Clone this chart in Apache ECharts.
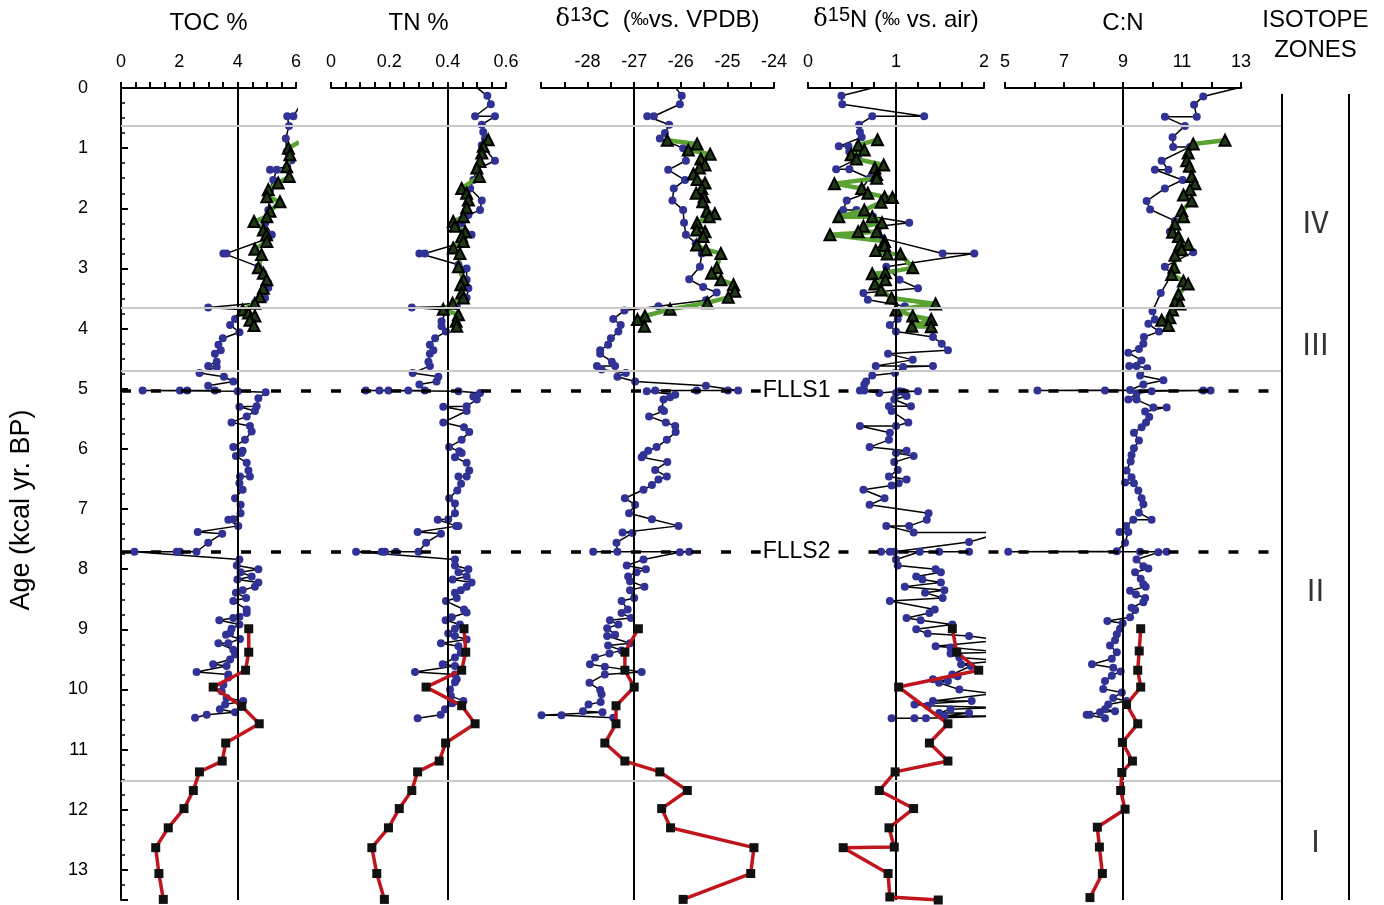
<!DOCTYPE html>
<html>
<head>
<meta charset="utf-8">
<script src="https://cdn.jsdelivr.net/npm/echarts@6/dist/echarts.min.js"></script>
<style>
  html, body { margin: 0; padding: 0; background: #fff; }
  #chart { width: 1384px; height: 905px; }
</style>
</head>
<body>
<div id="chart"></div>
<script>
// [value, age kcal BP] pairs
const tocBlue = [[6.15,0.28],[5.91,0.47],[5.70,0.47],[5.76,0.63],[5.65,0.84],[5.68,1.06],[5.85,1.20],[5.70,1.31],[5.11,1.36],[5.34,1.36],[5.22,1.53],[5.11,1.69],[5.05,2.03],[4.94,2.25],[5.17,2.44],[4.94,2.52],[3.62,2.75],[3.51,2.75],[4.71,2.97],[4.88,3.08],[5.05,3.24],[5.05,3.32],[4.94,3.49],[4.59,3.58],[2.99,3.65],[4.31,3.69],[3.91,3.84],[3.74,3.94],[4.06,4.06],[3.49,4.16],[3.34,4.27],[3.42,4.36],[3.22,4.42],[3.28,4.55],[2.99,4.62],[3.28,4.64],[2.69,4.74],[3.53,4.80],[3.85,4.88],[2.99,4.95],[3.22,5.03],[2.27,5.03],[2.02,5.03],[0.74,5.03],[4.0,5.04],[4.96,5.06],[4.71,5.16],[4.65,5.29],[4.06,5.30],[4.59,5.37],[4.31,5.46],[3.79,5.56],[4.42,5.62],[4.48,5.71],[4.25,5.85],[3.85,5.97],[4.17,6.03],[4.13,6.07],[3.94,6.12],[4.31,6.23],[4.37,6.36],[4.42,6.46],[4.08,6.46],[4.06,6.57],[4.17,6.68],[3.91,6.82],[4.10,6.93],[4.10,7.07],[3.85,7.17],[3.68,7.18],[4.02,7.28],[2.63,7.38],[3.47,7.41],[2.99,7.56],[2.59,7.71],[2.02,7.71],[1.91,7.71],[0.46,7.71],[4.06,7.84],[3.97,7.94],[4.71,8.0],[4.10,8.05],[4.48,8.12],[3.99,8.17],[4.71,8.22],[4.59,8.29],[4.17,8.35],[3.94,8.39],[4.29,8.48],[3.85,8.53],[4.31,8.67],[4.31,8.73],[4.06,8.79],[3.85,8.81],[3.37,8.85],[4.06,8.92],[3.79,8.99],[3.74,9.06],[3.60,9.09],[4.08,9.16],[3.68,9.23],[3.34,9.23],[3.85,9.34],[3.91,9.42],[3.74,9.50],[3.16,9.58],[3.62,9.61],[2.59,9.71],[3.68,9.75],[3.68,9.80],[3.51,9.92],[3.45,10.03],[3.62,10.14],[4.19,10.19],[3.57,10.25],[3.39,10.33],[3.91,10.38],[2.94,10.42],[2.54,10.47]];
const tocGreen = [[6.1,0.9],[5.74,1.0],[5.79,1.11],[5.68,1.31],[5.77,1.47],[5.39,1.58],[5.05,1.69],[5.0,1.81],[5.45,1.89],[5.11,2.05],[5.0,2.14],[4.56,2.22],[4.88,2.36],[4.99,2.44],[5.0,2.55],[4.59,2.68],[4.82,2.77],[4.71,2.99],[4.88,3.08],[5.0,3.19],[4.88,3.33],[4.76,3.47],[4.59,3.58],[4.17,3.69],[4.37,3.74],[4.59,3.79],[4.42,3.86],[4.56,3.95]];
const tocRed = [[4.38,8.99],[4.38,9.38],[4.27,9.68],[3.16,9.96],[4.14,10.28],[4.74,10.57],[3.59,10.89],[3.47,11.19],[2.69,11.37],[2.48,11.68],[2.16,11.98],[1.62,12.30],[1.19,12.63],[1.30,13.06],[1.45,13.49]];

const tnBlue = [[0.488,-0.05],[0.536,0.13],[0.548,0.27],[0.494,0.47],[0.562,0.47],[0.517,0.61],[0.522,0.73],[0.528,0.84],[0.517,0.95],[0.562,1.21],[0.50,1.35],[0.488,1.53],[0.477,1.67],[0.517,1.87],[0.511,2.03],[0.471,2.11],[0.448,2.25],[0.482,2.44],[0.442,2.58],[0.322,2.75],[0.303,2.75],[0.437,2.94],[0.465,3.0],[0.465,3.19],[0.471,3.33],[0.465,3.49],[0.431,3.63],[0.277,3.65],[0.397,3.69],[0.379,3.88],[0.379,3.96],[0.394,4.05],[0.357,4.16],[0.339,4.27],[0.351,4.36],[0.339,4.42],[0.334,4.55],[0.339,4.62],[0.28,4.74],[0.368,4.80],[0.362,4.88],[0.303,4.93],[0.322,5.03],[0.265,5.03],[0.197,5.03],[0.166,5.03],[0.119,5.03],[0.437,5.04],[0.511,5.07],[0.488,5.13],[0.50,5.18],[0.465,5.29],[0.385,5.30],[0.465,5.37],[0.385,5.56],[0.456,5.64],[0.474,5.72],[0.448,5.85],[0.405,5.97],[0.44,6.04],[0.448,6.07],[0.425,6.14],[0.465,6.23],[0.474,6.36],[0.465,6.46],[0.437,6.46],[0.446,6.58],[0.433,6.69],[0.405,6.82],[0.425,6.91],[0.425,7.07],[0.402,7.17],[0.366,7.18],[0.429,7.28],[0.437,7.28],[0.297,7.38],[0.377,7.41],[0.326,7.56],[0.30,7.71],[0.223,7.71],[0.185,7.71],[0.174,7.71],[0.086,7.71],[0.425,7.84],[0.425,7.94],[0.471,8.0],[0.437,8.05],[0.465,8.12],[0.417,8.17],[0.482,8.22],[0.465,8.29],[0.445,8.35],[0.425,8.39],[0.431,8.48],[0.394,8.53],[0.456,8.67],[0.465,8.72],[0.414,8.80],[0.393,8.85],[0.442,8.92],[0.425,8.99],[0.402,9.07],[0.425,9.11],[0.465,9.17],[0.377,9.23],[0.437,9.28],[0.445,9.39],[0.425,9.47],[0.383,9.58],[0.425,9.61],[0.288,9.71],[0.425,9.75],[0.431,9.83],[0.425,9.88],[0.408,10.0],[0.411,10.11],[0.454,10.19],[0.416,10.23],[0.391,10.33],[0.376,10.42],[0.297,10.48]];
const tnGreen = [[0.539,0.86],[0.522,0.97],[0.517,1.08],[0.511,1.22],[0.50,1.33],[0.509,1.47],[0.448,1.67],[0.465,1.75],[0.471,1.86],[0.465,1.99],[0.454,2.14],[0.419,2.22],[0.425,2.30],[0.46,2.39],[0.448,2.47],[0.454,2.55],[0.419,2.66],[0.442,2.75],[0.437,2.97],[0.454,3.19],[0.445,3.27],[0.448,3.41],[0.454,3.49],[0.417,3.58],[0.385,3.68],[0.437,3.77],[0.429,3.88],[0.431,3.96]];
const tnRed = [[0.456,8.99],[0.462,9.38],[0.448,9.68],[0.326,9.96],[0.448,10.27],[0.494,10.57],[0.393,10.89],[0.371,11.19],[0.297,11.37],[0.277,11.68],[0.234,11.98],[0.197,12.30],[0.140,12.63],[0.157,13.06],[0.183,13.49]];

const d13Blue = [[-26.15,-0.05],[-25.98,0.13],[-26.02,0.27],[-26.58,0.47],[-26.72,0.47],[-26.25,0.61],[-26.34,0.75],[-26.45,0.84],[-25.95,1.0],[-25.89,1.21],[-26.27,1.36],[-25.91,1.53],[-26.15,1.67],[-26.18,1.87],[-25.95,2.03],[-25.93,2.24],[-25.89,2.44],[-25.68,2.58],[-25.55,2.75],[-25.59,2.97],[-25.82,3.18],[-25.52,3.31],[-25.23,3.40],[-25.46,3.53],[-26.48,3.63],[-27.21,3.70],[-27.45,3.84],[-27.29,3.94],[-27.34,4.05],[-27.50,4.16],[-27.56,4.27],[-27.73,4.36],[-27.73,4.42],[-27.48,4.55],[-27.41,4.62],[-27.80,4.62],[-27.70,4.68],[-27.18,4.74],[-27.36,4.80],[-26.98,4.88],[-25.46,4.95],[-24.77,5.03],[-24.99,5.03],[-25.66,5.03],[-26.55,5.03],[-26.73,5.04],[-26.12,5.10],[-26.23,5.14],[-26.37,5.18],[-26.41,5.34],[-26.36,5.37],[-26.68,5.46],[-26.32,5.56],[-26.12,5.62],[-26.11,5.72],[-26.30,5.85],[-26.52,5.97],[-26.70,6.03],[-26.80,6.10],[-26.84,6.14],[-26.29,6.22],[-26.55,6.35],[-26.30,6.46],[-26.48,6.51],[-26.62,6.60],[-26.80,6.68],[-27.20,6.82],[-26.98,6.93],[-27.11,7.07],[-26.62,7.17],[-26.05,7.28],[-27.25,7.39],[-27.04,7.40],[-27.38,7.56],[-27.36,7.71],[-27.88,7.71],[-25.82,7.71],[-26.02,7.72],[-26.80,7.84],[-27.16,7.94],[-26.75,8.0],[-26.95,8.05],[-27.13,8.12],[-27.09,8.20],[-26.78,8.29],[-27.09,8.35],[-27.0,8.48],[-27.27,8.53],[-27.14,8.67],[-27.27,8.73],[-27.07,8.81],[-27.52,8.85],[-27.34,8.92],[-27.58,8.98],[-27.41,9.09],[-27.58,9.11],[-27.09,9.23],[-27.56,9.27],[-27.27,9.35],[-27.53,9.40],[-27.84,9.47],[-27.95,9.58],[-27.63,9.62],[-26.84,9.71],[-27.63,9.75],[-27.96,9.89],[-27.73,10.01],[-27.70,10.08],[-27.72,10.21],[-27.98,10.25],[-28.10,10.36],[-27.68,10.38],[-28.99,10.43],[-28.56,10.43],[-27.45,10.47]];
const d13Green = [[-26.29,0.87],[-25.65,0.93],[-25.84,1.03],[-25.37,1.10],[-25.57,1.18],[-25.48,1.28],[-25.60,1.33],[-25.73,1.43],[-25.65,1.52],[-25.48,1.58],[-25.55,1.67],[-25.67,1.75],[-25.50,1.81],[-25.53,1.89],[-25.44,2.05],[-25.27,2.09],[-25.39,2.14],[-25.65,2.24],[-25.66,2.36],[-25.48,2.39],[-25.52,2.47],[-25.66,2.61],[-25.46,2.69],[-25.14,2.75],[-25.23,2.99],[-25.34,3.08],[-25.14,3.19],[-24.87,3.27],[-24.84,3.38],[-24.98,3.48],[-25.43,3.57],[-26.23,3.68],[-26.77,3.79],[-26.93,3.85],[-26.78,3.96]];
const d13Red = [[-26.91,8.99],[-27.20,9.38],[-27.20,9.68],[-27.0,9.96],[-27.39,10.27],[-27.39,10.57],[-27.63,10.89],[-27.20,11.19],[-26.45,11.37],[-25.86,11.68],[-26.41,11.98],[-26.22,12.30],[-24.43,12.63],[-24.50,13.06],[-25.95,13.49]];

const d15Blue = [[0.87,-0.05],[0.38,0.13],[0.39,0.27],[1.32,0.47],[0.73,0.47],[0.58,0.61],[0.59,0.73],[0.61,0.82],[0.35,0.97],[0.46,0.97],[0.47,1.06],[0.57,1.17],[0.32,1.35],[0.47,1.35],[0.70,1.50],[0.61,1.67],[0.66,1.75],[0.44,1.87],[0.40,2.03],[0.55,2.03],[0.74,2.14],[1.15,2.24],[0.81,2.30],[0.85,2.50],[1.53,2.75],[1.89,2.75],[0.89,2.97],[1.04,3.19],[1.25,3.33],[0.63,3.41],[0.68,3.52],[1.10,3.63],[1.02,3.84],[0.93,3.94],[1.0,4.05],[1.42,4.14],[1.52,4.25],[1.59,4.36],[0.91,4.42],[1.19,4.52],[0.77,4.62],[1.42,4.62],[1.08,4.64],[0.99,4.74],[0.73,4.78],[0.66,4.88],[0.64,4.93],[0.59,5.03],[0.64,5.03],[0.81,5.07],[1.04,5.04],[1.25,5.04],[1.08,5.05],[1.0,5.07],[1.12,5.12],[0.98,5.18],[1.17,5.29],[0.92,5.29],[0.95,5.37],[1.14,5.56],[1.0,5.62],[0.59,5.62],[0.93,5.73],[0.92,5.85],[0.70,5.97],[1.12,6.03],[1.0,6.07],[1.20,6.12],[0.98,6.22],[1.02,6.35],[0.92,6.46],[1.12,6.51],[1.03,6.57],[0.95,6.61],[0.63,6.68],[0.87,6.82],[0.70,6.93],[1.37,7.07],[1.35,7.18],[1.15,7.28],[0.89,7.28],[1.20,7.39],[2.2,7.39],[1.83,7.55],[0.98,7.71],[0.83,7.71],[0.93,7.71],[1.83,7.71],[1.49,7.71],[1.27,7.71],[1.0,7.84],[1.02,7.94],[1.45,8.0],[1.51,8.05],[1.23,8.12],[1.30,8.17],[1.51,8.22],[1.10,8.29],[1.55,8.35],[1.33,8.39],[1.53,8.48],[0.93,8.53],[1.44,8.67],[1.38,8.73],[1.12,8.81],[1.28,8.85],[1.64,8.92],[1.23,9.0],[1.36,9.07],[1.83,9.11],[2.2,9.18],[1.45,9.28],[1.62,9.30],[2.2,9.38],[1.62,9.40],[1.72,9.47],[2.2,9.52],[1.74,9.58],[1.85,9.61],[1.64,9.75],[1.70,9.78],[1.42,9.83],[1.59,9.86],[1.49,9.89],[1.72,10.0],[2.1,10.07],[1.42,10.19],[1.86,10.19],[1.21,10.25],[1.36,10.27],[2.2,10.30],[1.62,10.33],[1.49,10.39],[1.83,10.39],[1.55,10.44],[2.2,10.44],[1.34,10.48],[1.21,10.48],[0.95,10.48]];
const d15Green = [[0.79,0.86],[0.57,0.95],[0.64,1.03],[0.49,1.11],[0.55,1.18],[0.86,1.28],[0.76,1.33],[0.78,1.44],[0.78,1.50],[0.30,1.59],[0.61,1.67],[0.68,1.75],[0.87,1.81],[0.96,1.82],[0.83,1.90],[0.64,2.03],[0.35,2.14],[0.73,2.14],[0.84,2.24],[0.63,2.30],[0.57,2.39],[0.78,2.39],[0.25,2.44],[0.87,2.55],[0.87,2.62],[0.77,2.70],[0.90,2.76],[1.05,2.76],[1.19,2.99],[0.88,3.07],[0.73,3.09],[0.88,3.19],[0.76,3.26],[0.83,3.36],[0.95,3.49],[1.45,3.59],[1.0,3.69],[1.19,3.79],[1.40,3.85],[1.18,3.96],[1.40,3.97]];
const d15Red = [[1.64,8.99],[1.69,9.38],[1.94,9.68],[1.03,9.96],[1.59,10.57],[1.38,10.89],[1.59,11.19],[0.99,11.37],[0.81,11.68],[1.20,11.98],[0.92,12.30],[0.98,12.62],[0.40,12.63],[0.91,13.06],[0.93,13.45],[1.48,13.5]];

const cnBlue = [[13.3,-0.05],[11.72,0.14],[11.41,0.28],[11.50,0.48],[10.42,0.48],[11.10,0.63],[10.68,0.82],[10.70,0.98],[11.27,0.98],[10.31,1.21],[10.54,1.36],[10.08,1.36],[11.02,1.53],[10.42,1.67],[9.80,1.88],[9.92,2.02],[10.76,2.21],[10.59,2.39],[11.38,2.73],[10.42,2.97],[10.65,3.10],[10.28,3.41],[10.0,3.71],[10.08,3.85],[9.86,3.92],[10.22,4.05],[9.71,4.14],[9.69,4.25],[9.54,4.34],[9.18,4.40],[9.63,4.53],[9.21,4.62],[9.46,4.62],[9.82,4.66],[9.58,4.78],[10.37,4.86],[9.69,4.93],[9.24,5.02],[6.10,5.03],[8.39,5.03],[11.97,5.03],[11.72,5.03],[9.97,5.04],[9.46,5.08],[9.18,5.18],[9.46,5.18],[10.03,5.31],[10.48,5.31],[9.75,5.38],[9.89,5.47],[9.78,5.56],[9.63,5.64],[9.37,5.73],[9.54,5.86],[9.37,5.99],[9.29,6.10],[9.26,6.21],[9.12,6.36],[9.29,6.47],[9.07,6.56],[9.37,6.57],[9.52,6.69],[9.63,6.82],[9.69,6.92],[9.54,7.06],[9.97,7.18],[9.35,7.18],[9.10,7.28],[8.88,7.38],[9.18,7.38],[9.07,7.56],[8.79,7.70],[5.11,7.71],[9.58,7.71],[10.48,7.71],[10.20,7.72],[9.46,7.84],[9.69,7.95],[9.86,7.99],[9.41,8.05],[9.60,8.16],[9.69,8.25],[9.77,8.29],[9.24,8.36],[9.44,8.42],[9.75,8.48],[9.69,8.55],[9.29,8.64],[9.41,8.68],[9.24,8.80],[8.47,8.86],[8.99,8.90],[8.90,8.99],[8.79,9.08],[8.73,9.18],[8.56,9.27],[8.79,9.38],[8.62,9.49],[7.95,9.58],[8.67,9.64],[8.92,9.70],[8.62,9.77],[8.39,9.86],[8.33,9.99],[8.96,10.05],[8.67,10.14],[9.12,10.19],[8.50,10.25],[8.39,10.33],[8.73,10.36],[8.22,10.38],[7.88,10.42],[7.77,10.42],[8.39,10.48]];
const cnGreen = [[12.46,0.87],[11.38,0.93],[11.21,1.08],[11.16,1.21],[11.25,1.30],[11.33,1.47],[11.44,1.59],[11.27,1.69],[11.05,1.78],[11.33,1.88],[10.99,2.04],[11.05,2.14],[10.76,2.26],[10.68,2.40],[10.88,2.47],[10.93,2.60],[11.21,2.60],[10.99,2.69],[10.76,2.78],[10.73,2.98],[10.65,3.10],[11.05,3.21],[11.21,3.26],[10.88,3.43],[10.76,3.56],[10.93,3.59],[10.68,3.69],[10.59,3.82],[10.31,3.86],[10.54,3.95]];
const cnRed = [[9.60,8.99],[9.55,9.36],[9.50,9.68],[9.60,9.96],[9.12,10.25],[9.50,10.57],[8.98,10.88],[9.32,11.19],[8.96,11.38],[8.92,11.68],[9.07,11.99],[8.13,12.29],[8.20,12.62],[8.30,13.06],[7.88,13.46]];

const zoneBounds = [0.63, 3.65, 4.70, 11.51];
const eventNames = ['FLLS1', 'FLLS2'];
const eventAges = [5.03, 7.71];
const zoneNames = ['Ⅳ', 'Ⅲ', 'Ⅱ', 'Ⅰ'];
const zoneLabelAges = [2.14, 4.18, 8.3, 12.5];

const FONT = 'Liberation Sans';
const TOP = 88, H = 812, AGE_MAX = 13.5;

const panels = [
  { left: 121, width: 175, min: 0, max: 6, interval: 2, minor: 4, ref: 4,
    name: 'TOC %', blue: tocBlue, green: tocGreen, red: tocRed },
  { left: 331, width: 175, min: 0, max: 0.6, interval: 0.2, minor: 4, ref: 0.4,
    name: 'TN %', blue: tnBlue, green: tnGreen, red: tnRed },
  { left: 541, width: 233, min: -29, max: -24, interval: 1, minor: 2, ref: -27,
    name: '{d|δ}{s|13}C  ({p|‰}vs. VPDB)', hideFirst: true, blue: d13Blue, green: d13Green, red: d13Red },
  { left: 808, width: 176, min: 0, max: 2, interval: 1, minor: 4, ref: 1,
    name: '{d|δ}{s|15}N ({p|‰} vs. air)', blue: d15Blue, green: d15Green, red: d15Red },
  { left: 1005, width: 236, min: 5, max: 13, interval: 2, minor: 2, ref: 9,
    name: 'C:N', blue: cnBlue, green: cnGreen, red: cnRed },
];

const grid = [], xAxis = [], yAxis = [], series = [];
const black = '#000';

panels.forEach((p, i) => {
  grid.push({ left: p.left, width: p.width, top: TOP, height: H });
  xAxis.push({
    gridIndex: i, type: 'value', position: 'top', offset: 5,
    min: p.min, max: p.max, interval: p.interval,
    name: p.name, nameLocation: 'middle', nameGap: 48,
    nameTextStyle: { fontFamily: FONT, fontSize: 24, color: black,
      rich: {
        d: { fontFamily: 'DejaVu Serif', fontSize: 24, color: black },
        s: { fontFamily: FONT, fontSize: 20, color: black, padding: [0, 0, 10, 0] },
        p: { fontFamily: FONT, fontSize: 18, color: black }
      } },
    axisLine: { show: true, lineStyle: { color: black, width: 2 } },
    axisTick: { show: true, inside: false, length: 6, lineStyle: { color: black, width: 2 } },
    minorTick: { show: true, splitNumber: p.minor, length: 6, lineStyle: { color: black, width: 2 } },
    splitLine: { show: false },
    axisLabel: { fontFamily: FONT, fontSize: 18, color: black, margin: 12,
      formatter: v => (p.hideFirst && v === p.min) ? '' : String(v) }
  });
  yAxis.push(i === 0 ? {
    gridIndex: i, type: 'value', inverse: true, min: 0, max: AGE_MAX, interval: 1,
    position: 'left', offset: 21,
    axisLine: { show: true, lineStyle: { color: black, width: 2 } },
    axisTick: { show: true, inside: true, length: 7, lineStyle: { color: black, width: 2 } },
    minorTick: { show: true, splitNumber: 4, length: 4, lineStyle: { color: black, width: 1.5 } },
    splitLine: { show: false },
    axisLabel: { fontFamily: FONT, fontSize: 18, color: black, margin: 12,
      formatter: v => Number.isInteger(v) ? String(v) : '' }
  } : { gridIndex: i, type: 'value', inverse: true, min: 0, max: AGE_MAX, show: false });

  series.push({
    type: 'line', xAxisIndex: i, yAxisIndex: i, data: p.blue, clip: true, z: 3,
    symbol: 'circle', symbolSize: 8,
    itemStyle: { color: '#303296' },
    lineStyle: { color: black, width: 1.5 },
    markLine: { silent: true, symbol: 'none', label: { show: false },
      lineStyle: { color: black, width: 2, type: 'solid' },
      data: [{ xAxis: p.ref }] }
  });
  series.push({
    type: 'line', xAxisIndex: i, yAxisIndex: i, data: p.green, clip: true, z: 4,
    symbol: 'triangle', symbolSize: 11,
    itemStyle: { color: '#1f3a14', borderColor: black, borderWidth: 2 },
    lineStyle: { color: '#5aa332', width: 4.5 }
  });
  series.push({
    type: 'line', xAxisIndex: i, yAxisIndex: i, data: p.red, clip: true, z: 5,
    symbol: 'rect', symbolSize: 9,
    itemStyle: { color: '#111' },
    lineStyle: { color: '#c0151d', width: 3.5 }
  });
});

// full-width background grid for zone boundaries and event lines
const bg = panels.length;
grid.push({ left: 121, width: 1161, top: TOP, height: H });
xAxis.push({ gridIndex: bg, type: 'value', min: 0, max: 1, show: false });
yAxis.push({ gridIndex: bg, type: 'value', inverse: true, min: 0, max: AGE_MAX, show: false });
series.push({
  type: 'scatter', xAxisIndex: bg, yAxisIndex: bg, data: [], z: 1,
  markLine: { silent: true, symbol: 'none', label: { show: false },
    lineStyle: { color: '#c8c8c8', width: 2, type: 'solid' },
    data: zoneBounds.map(a => ({ yAxis: a })) }
});
// event lines, broken where the label sits
const labelStart = 0.551, labelEnd = 0.618;
series.push({
  type: 'scatter', xAxisIndex: bg, yAxisIndex: bg, data: [], z: 6,
  markLine: { silent: true, symbol: 'none',
    lineStyle: { color: black, width: 3.5, type: [10, 20] },
    data: eventAges.flatMap((a, k) => [
      [{ coord: [0, a], name: eventNames[k],
         label: { show: true, position: 'end', formatter: '{b}', distance: 2,
                  fontFamily: FONT, fontSize: 23, color: black } },
       { coord: [labelStart, a] }],
      [{ coord: [labelEnd, a], label: { show: false } }, { coord: [0.99, a] }]
    ]) }
});

// isotope zone column
const zg = bg + 1;
grid.push({ left: 1282, width: 67, top: TOP, height: H });
xAxis.push({ gridIndex: zg, type: 'value', min: 0, max: 1, position: 'top', offset: 5,
  name: 'ISOTOPE\nZONES', nameLocation: 'middle', nameGap: 24,
  nameTextStyle: { fontFamily: FONT, fontSize: 24, color: black, lineHeight: 30 },
  axisLine: { show: false }, axisTick: { show: false }, axisLabel: { show: false },
  splitLine: { show: false } });
yAxis.push({ gridIndex: zg, type: 'value', inverse: true, min: 0, max: AGE_MAX, show: false });
series.push({
  type: 'scatter', xAxisIndex: zg, yAxisIndex: zg, z: 6,
  data: zoneLabelAges.map((a, k) => ({ value: [0.5, a], name: zoneNames[k] })),
  symbol: 'rect', symbolSize: 1, itemStyle: { color: 'rgba(255,255,255,0)' },
  label: { show: true, position: 'inside', formatter: '{b}', fontFamily: 'Noto Sans CJK JP',
    fontSize: 30, color: black },
  markLine: { silent: true, symbol: 'none', label: { show: false },
    lineStyle: { color: black, width: 2, type: 'solid' },
    data: [{ xAxis: 0 }, { xAxis: 1 }] }
});

const chart = echarts.init(document.getElementById('chart'), null, { renderer: 'canvas' });
chart.setOption({
  animation: false,
  backgroundColor: '#fff',
  textStyle: { fontFamily: FONT },
  grid, xAxis, yAxis, series,
  graphic: [{
    type: 'text', x: 22, y: 510, rotation: Math.PI / 2,
    style: { text: 'Age (kcal yr. BP)', fontFamily: FONT, fontSize: 27, fill: black,
      align: 'center', verticalAlign: 'middle' }
  }]
});
</script>
</body>
</html>
